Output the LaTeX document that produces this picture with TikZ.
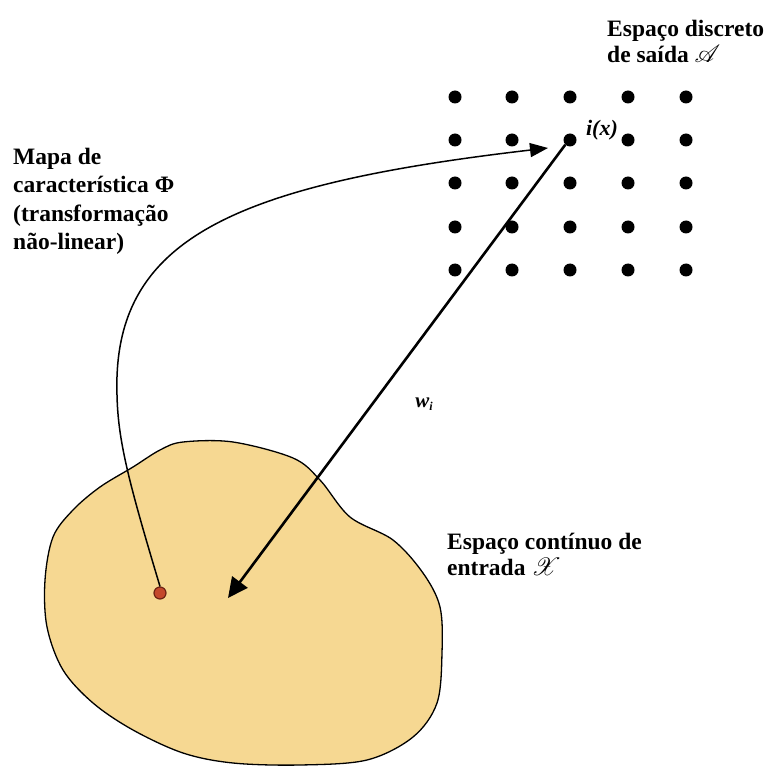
\documentclass[tikz,border=0pt]{standalone}
\usepackage{fontspec}
\setmainfont{Liberation Serif}
\usepackage{mathrsfs}
\usetikzlibrary{arrows.meta}
\definecolor{blobfill}{RGB}{246,216,146}
\definecolor{dotred}{RGB}{196,72,44}
\definecolor{dotedge}{RGB}{110,35,20}
\begin{document}
\begin{tikzpicture}[x=1pt,y=-1pt,
  txt/.style={font=\bfseries\fontsize{23.5}{26}\selectfont, align=left, inner sep=0pt, anchor=base west},
  txtwide/.style={txt, font=\bfseries\fontsize{23.5}{28.5}\selectfont},
  gdot/.style={circle, fill=black, minimum size=13pt, inner sep=0pt},
  inputdot/.style={circle, fill=dotred, draw=dotedge, line width=1.2pt, minimum size=12pt, inner sep=0pt},
  phiarrow/.style={line width=1.5pt, -{Triangle[length=18pt,width=14pt]}},
  warrow/.style={line width=2.6pt, -{Triangle[length=20pt,width=19pt]}},
  blob/.style={draw=black, line width=1.3pt, fill=blobfill}]
\useasboundingbox (0,0) rectangle (771,767);
\fill[white] (0,0) rectangle (771,767);
% input space
\draw[blob] plot[smooth cycle, tension=0.55] coordinates {
 (183,442) (233,442) (293,458) (320,480) (350,517) (393,540) (423,573)
 (440,607) (442,653) (437,703) (413,737) (367,760) (300,765) (233,763)
 (183,753) (133,730) (93,703) (63,670) (47,627) (45,580) (53,537)
 (73,510) (100,487) (133,467) (160,450)};
% output grid
\foreach \i/\x in {1/455,2/512,3/570,4/628,5/686}
  \foreach \j/\y in {1/97,2/140,3/183,4/227,5/270}
    \node[gdot] (d\i\j) at (\x,\y) {};
% input point
\node[inputdot] (xin) at (160,593) {};
\coordinate (phiend) at (548,148);
\coordinate (wend) at (228,598);
% feature map arrow
\draw[phiarrow] (xin.north) .. controls (128,480) and (118,440) .. (117,395)
   .. controls (112,240) and (230,185) .. (phiend);
% weight arrow
\draw[warrow] (d32.south west) -- (wend);
% labels
\node[font=\bfseries\itshape\fontsize{22}{22}\selectfont, inner sep=0pt] (ix) at (602,130) {i(x)};
\node[font=\bfseries\itshape\fontsize{21}{21}\selectfont, inner sep=0pt] (wi) at (424,404) {w\raisebox{-0.35ex}{\fontsize{12}{12}\selectfont i}};
\node[txt] (outlbl) at (607,63) {Espaço discreto\\de saída $\mathscr{A}$};
\node[txtwide] (maplbl) at (13,250) {Mapa de\\característica Φ\\(transformação\\não-linear)};
\node[txt] (inlbl) at (447,575) {Espaço contínuo de\\entrada $\mathscr{X}$};
\end{tikzpicture}
\end{document}
